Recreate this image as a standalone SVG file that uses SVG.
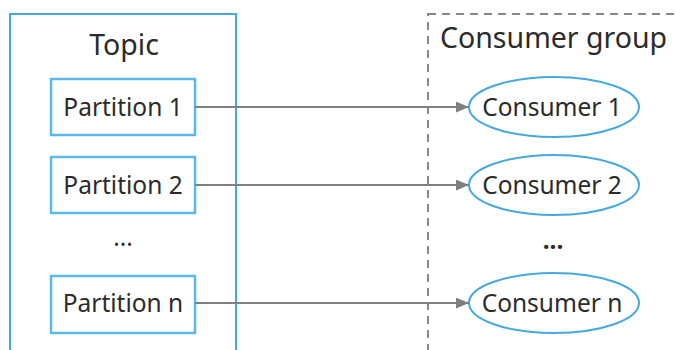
<svg xmlns="http://www.w3.org/2000/svg" width="675" height="350" viewBox="0 0 675 350">
  <style>
    text { font-family: "Noto Sans", "Open Sans", sans-serif; fill: #2b2b2b; }
    .part { fill: #ffffff; stroke: #5bb8ea; stroke-width: 2.5; }
    .cons { fill: #ffffff; stroke: #45a9e0; stroke-width: 2; }
    .lbl { font-size: 24.5px; text-anchor: middle; }
    .title { font-size: 28.5px; }
    .link { stroke: #7f7f7f; stroke-width: 2; fill: none; marker-end: url(#arrow); }
  </style>
  <defs>
    <marker id="arrow" viewBox="0 0 12 10" refX="12" refY="5" markerWidth="13" markerHeight="11" markerUnits="userSpaceOnUse" orient="auto">
      <path d="M0,0 L12,5 L0,10 z" fill="#7f7f7f"/>
    </marker>
  </defs>
  <rect width="675" height="350" fill="#ffffff"/>

  <g id="topic">
    <rect x="10" y="14" width="226" height="350" fill="none" stroke="#45a9e0" stroke-width="2"/>
    <text class="title" x="124" y="55" text-anchor="middle">Topic</text>
  </g>

  <g id="consumer-group">
    <rect x="428" y="14" width="260" height="350" fill="none" stroke="#888888" stroke-width="2" stroke-dasharray="8,6"/>
    <text class="title" x="440" y="48">Consumer group</text>
  </g>

  <g id="partition-1">
    <rect class="part" x="51" y="79" width="144" height="56"/>
    <text class="lbl" x="123" y="116">Partition 1</text>
  </g>
  <g id="partition-2">
    <rect class="part" x="51" y="157" width="144" height="56"/>
    <text class="lbl" x="123" y="194">Partition 2</text>
  </g>
  <g id="partition-dots">
    <text class="lbl" x="123" y="246">...</text>
  </g>
  <g id="partition-n">
    <rect class="part" x="51" y="276" width="144" height="57"/>
    <text class="lbl" x="123" y="312">Partition n</text>
  </g>

  <g id="consumer-1">
    <ellipse class="cons" cx="554" cy="107" rx="85" ry="30"/>
    <text class="lbl" x="552" y="116">Consumer 1</text>
  </g>
  <g id="consumer-2">
    <ellipse class="cons" cx="554" cy="185" rx="85" ry="30"/>
    <text class="lbl" x="552" y="194">Consumer 2</text>
  </g>
  <g id="consumer-dots">
    <text class="lbl" x="553" y="249" font-weight="bold">...</text>
  </g>
  <g id="consumer-n">
    <ellipse class="cons" cx="554" cy="303" rx="85" ry="30"/>
    <text class="lbl" x="552" y="312">Consumer n</text>
  </g>

  <g id="connectors">
    <line class="link" x1="195" y1="107" x2="469" y2="107"/>
    <line class="link" x1="195" y1="185" x2="469" y2="185"/>
    <line class="link" x1="195" y1="303" x2="469" y2="303"/>
  </g>
</svg>
